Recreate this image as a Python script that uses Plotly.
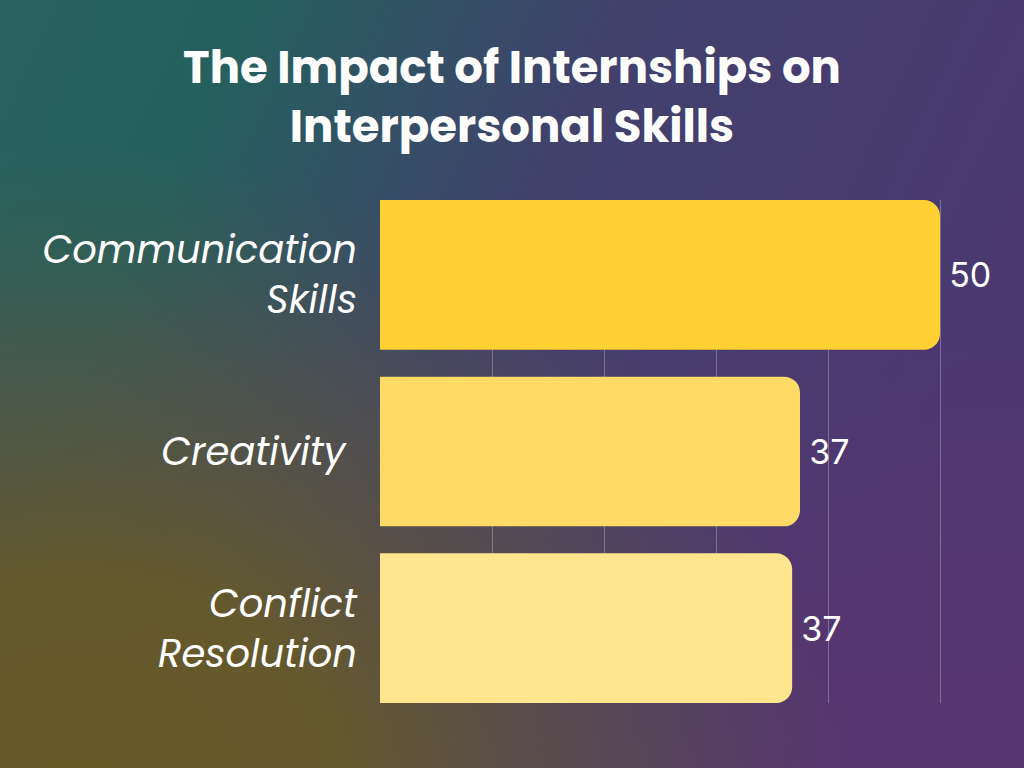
#!/usr/bin/env python3
import base64
import plotly.graph_objects as go

# Data
skills = ['Communication<br>Skills', 'Creativity\u00a0', 'Conflict<br>Resolution']
scores = [50, 37.5, 36.8]
score_labels = ['50', '37', '37']
bar_colors = ['#FFD033', '#FFDA66', '#FFE58D']

W, H = 1024, 768
M_L, M_R, M_T, M_B = 380, 44, 200, 65

# Background gradient as an inline SVG image
bg_svg = f'''<svg xmlns="http://www.w3.org/2000/svg" width="{W}" height="{H}" viewBox="0 0 {W} {H}">
<defs>
<linearGradient id="base" x1="0" y1="0" x2="1" y2="0.35">
<stop offset="0" stop-color="#296260"/>
<stop offset="0.22" stop-color="#25605E"/>
<stop offset="0.55" stop-color="#41416C"/>
<stop offset="1" stop-color="#4B3870"/>
</linearGradient>
<linearGradient id="low" x1="0" y1="0" x2="0" y2="1">
<stop offset="0.35" stop-color="#5C3470" stop-opacity="0"/>
<stop offset="1" stop-color="#5C3470" stop-opacity="0.8"/>
</linearGradient>
<radialGradient id="olive" cx="0.08" cy="1.05" r="0.75" gradientTransform="translate(0.08 1.05) scale(1 1.15) translate(-0.08 -1.05)">
<stop offset="0" stop-color="#685A26" stop-opacity="1"/>
<stop offset="0.35" stop-color="#655A2A" stop-opacity="0.95"/>
<stop offset="0.7" stop-color="#58593C" stop-opacity="0.5"/>
<stop offset="1" stop-color="#4A5A46" stop-opacity="0"/>
</radialGradient>
</defs>
<rect width="{W}" height="{H}" fill="url(#base)"/>
<rect width="{W}" height="{H}" fill="url(#low)"/>
<rect width="{W}" height="{H}" fill="url(#olive)"/>
</svg>'''
bg_src = 'data:image/svg+xml;base64,' + base64.b64encode(bg_svg.encode()).decode()

pw = W - M_L - M_R
ph = H - M_T - M_B

fig = go.Figure()

fig.add_trace(go.Bar(
    x=scores,
    y=skills,
    orientation='h',
    marker=dict(color=bar_colors, line=dict(width=0)),
    text=score_labels,
    textposition='outside',
    texttemplate='\u2009%{text}',
    textfont=dict(family='Inter, Roboto, sans-serif', size=34, color='white'),
    cliponaxis=False,
    hoverinfo='skip',
    showlegend=False
))

fig.update_layout(
    width=W,
    height=H,
    margin=dict(l=M_L, r=M_R, t=M_T, b=M_B),
    paper_bgcolor='#3F4A60',
    plot_bgcolor='rgba(0,0,0,0)',
    bargap=0.153,
    barcornerradius=16,
    title=dict(
        text='<b>The Impact of Internships on<br>Interpersonal Skills</b>',
        x=0.5,
        xanchor='center',
        y=1 - 83 / H,
        yanchor='middle',
        yref='container',
        font=dict(family='Poppins, Open Sans, sans-serif', size=45, color='white')
    ),
    xaxis=dict(
        range=[0, 50 * pw / 560],
        tickvals=[10, 20, 30, 40, 50],
        showticklabels=False,
        showgrid=True,
        gridcolor='rgba(255,255,255,0.28)',
        gridwidth=1,
        zeroline=False,
        showline=False,
        fixedrange=True
    ),
    yaxis=dict(
        categoryorder='array',
        categoryarray=skills,
        range=[2.4235, -0.4235],
        showgrid=False,
        zeroline=False,
        showline=False,
        ticks='',
        ticklabelstandoff=22,
        tickfont=dict(family='Poppins, Open Sans, sans-serif', size=38.5, color='white', style='italic'),
        fixedrange=True
    ),
    images=[dict(
        source=bg_src,
        xref='paper', yref='paper',
        x=-M_L / pw, y=1 + M_T / ph,
        sizex=W / pw, sizey=H / ph,
        xanchor='left', yanchor='top',
        sizing='stretch',
        layer='below'
    )]
)

# drop the default page margin so the figure fills the window
fig.write_html('out.html', config={'displayModeBar': False},
               post_script="document.body.style.margin='0';")
